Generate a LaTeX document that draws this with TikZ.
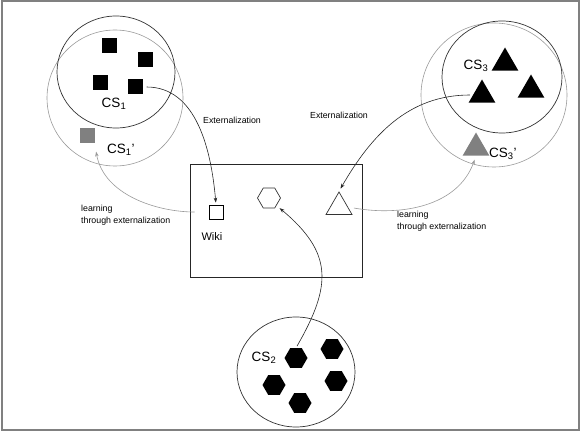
\documentclass[tikz,border=0pt]{standalone}
\usepackage{fontspec}
\setmainfont{Liberation Sans}
\usetikzlibrary{shapes.geometric,arrows.meta}
\begin{document}
\begin{tikzpicture}[x=1pt,y=-1pt,
    sq/.style={fill=black,inner sep=0pt,minimum size=15pt},
    tri/.style={regular polygon,regular polygon sides=3,fill=black,inner sep=0pt,minimum size=31pt},
    hex/.style={regular polygon,regular polygon sides=6,fill=black,inner sep=0pt,minimum size=23pt},
    lbl/.style={font=\fontsize{13.5}{15}\selectfont,inner sep=0pt},
    txt/.style={font=\fontsize{8.8}{11.5}\selectfont,inner sep=0pt,align=left},
    ext/.style={-{Stealth[length=5pt,width=3.5pt]},black!85,line width=0.6pt},
    learn/.style={-{Stealth[length=5pt,width=3.5pt]},black!40,line width=0.6pt}]
    \useasboundingbox (0,0) rectangle (582,433);
    \draw[black!50,line width=2pt] (1.5,1.5) rectangle (579,430);

    % CS1
    \draw[black!40,line width=0.6pt] (115,98) circle [radius=68];
    \draw[black!80,line width=0.7pt] (116,72) ellipse [x radius=59, y radius=56];
    \node[sq] (SA) at (109,46) {};
    \node[sq] (SB) at (145,60) {};
    \node[sq] (SC) at (100,83) {};
    \node[sq] (SD) at (135,87) {};
    \node[sq,fill=black!50] (GS) at (87,136) {};
    \node[lbl] (CA) at (114,104) {CS\textsubscript{1}};
    \node[lbl,anchor=west] (CB) at (107,150) {CS\textsubscript{1}'};

    % CS3
    \draw[black!40,line width=0.6pt] (494,95) ellipse [x radius=73, y radius=72];
    \draw[black!80,line width=0.7pt] (502,77) ellipse [x radius=60, y radius=56];
    \node[tri] (TA) at (505,63) {};
    \node[tri] (TB) at (482,95) {};
    \node[tri] (TC) at (531,90) {};
    \node[tri,fill=black!50] (GT) at (476,148) {};
    \node[lbl] (CC) at (476,66) {CS\textsubscript{3}};
    \node[lbl,anchor=west] (CD) at (489,154) {CS\textsubscript{3}'};

    % CS2
    \draw[black!80,line width=0.7pt] (296,372) ellipse [x radius=59, y radius=55];
    \node[hex] (HA) at (296,358) {};
    \node[hex] (HB) at (332,349) {};
    \node[hex] (HC) at (274,385) {};
    \node[hex] (HD) at (336,381) {};
    \node[hex] (HE) at (300,403) {};
    \node[lbl] (CE) at (264,358) {CS\textsubscript{2}};

    % wiki
    \draw[black!85,line width=0.8pt] (190,164) rectangle (362,277);
    \node[draw,line width=0.7pt,inner sep=0pt,minimum size=14pt] (WS) at (216,212) {};
    \node[draw,black!80,line width=0.7pt,regular polygon,regular polygon sides=6,inner sep=0pt,minimum size=23pt] (WH) at (269,198) {};
    \node[draw,black!80,line width=0.7pt,regular polygon,regular polygon sides=3,inner sep=0pt,minimum size=30pt] (WT) at (339,207) {};
    \node[txt,font=\fontsize{11}{12}\selectfont] (WL) at (212,237) {Wiki};

    \node[txt] (EA) at (232,120) {Externalization};
    \node[txt] (EB) at (339,115) {Externalization};
    \node[txt,anchor=west] (LA) at (81,215) {learning\\through externalization};
    \node[txt,anchor=west] (LB) at (397,221) {learning\\through externalization};

    \draw[ext,shorten <=4pt,shorten >=2pt] (SD.east) to[out=0,in=95] (WS.north);
    \draw[ext,shorten <=3pt,shorten >=3pt] (TB.west) to[out=180,in=60] (WT.north);
    \draw[ext,shorten <=2pt,shorten >=4pt] (HA.north) to[out=60,in=-40,looseness=1.3] (WH.south east);
    \draw[learn,shorten <=14pt,shorten >=8pt] (WS.west) to[out=180,in=-80] (GS.south east);
    \draw[learn,shorten <=6pt,shorten >=4pt] (WT.east) to[out=-10,in=-110] (GT.south);
\end{tikzpicture}
\end{document}
